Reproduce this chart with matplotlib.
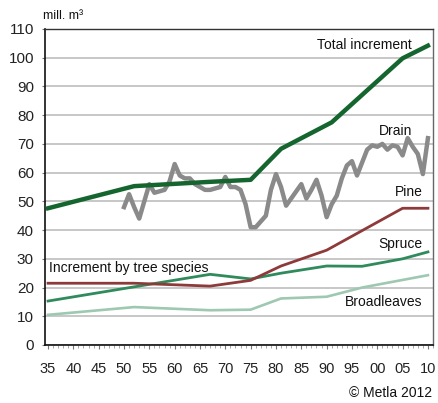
import matplotlib
matplotlib.use("Agg")
import matplotlib.pyplot as plt
from matplotlib.ticker import MultipleLocator, FixedLocator

plt.rcParams['font.family'] = ['Liberation Sans Narrow', 'Liberation Sans', 'DejaVu Sans']

# Data
total_years = [1935, 1952, 1967, 1975, 1981, 1991, 2005, 2010]
total_vals = [47.6, 55.3, 56.8, 57.5, 68.3, 77.5, 99.8, 104.2]

pine_years = [1935, 1952, 1967, 1975, 1981, 1990, 2005, 2010]
pine_vals = [21.5, 21.5, 20.5, 22.5, 27.5, 33.0, 47.6, 47.6]

spruce_years = [1935, 1967, 1975, 1981, 1990, 1997, 2005, 2010]
spruce_vals = [15.3, 24.6, 23.0, 25.0, 27.5, 27.4, 30.0, 32.4]

broad_years = [1935, 1952, 1967, 1975, 1981, 1990, 1997, 2010]
broad_vals = [10.5, 13.2, 12.1, 12.3, 16.2, 16.8, 20.0, 24.3]

drain_years = list(range(1950, 2011))
drain_vals = [48, 52.5, 48, 44, 50, 56, 53, 53.5, 54, 57,
              63, 59, 58, 58, 56, 55, 54, 54, 54.5, 55,
              58.5, 55, 55, 54, 49, 41, 41, 43, 45, 54,
              59.5, 55, 48.5, 51, 53.5, 56, 51, 54, 57.5, 52,
              44.5, 49, 52, 58, 62.5, 64, 59, 63.5, 68, 69.5,
              69, 70, 68, 69.5, 69, 66, 72, 69, 66.5, 59.5, 72]

xtick_years = list(range(1935, 2011, 5))
xtick_labels = ['%02d' % (y % 100) for y in xtick_years]

fig = plt.figure(figsize=(4.38, 4.03), dpi=100)
ax = fig.add_axes([45/438, 1-345/403, 388/438, 316/403])

ax.set_xlim(1934.4, 2011.0)
ax.set_ylim(0, 110)

ax.yaxis.set_major_locator(MultipleLocator(10))
ax.grid(axis='y', color='#b8b8b8', linewidth=1.1, zorder=0)
ax.set_axisbelow(True)

ax.plot(drain_years, drain_vals, color='#8a8a8a', lw=3.2, solid_joinstyle='round', zorder=3)
ax.plot(broad_years, broad_vals, color='#9ec8b2', lw=1.9, zorder=3)
ax.plot(spruce_years, spruce_vals, color='#2f8a5c', lw=2.0, zorder=4)
ax.plot(pine_years, pine_vals, color='#8e3a3a', lw=2.0, zorder=4)
ax.plot(total_years, total_vals, color='#15652f', lw=3.2, zorder=5)

ax.xaxis.set_major_locator(FixedLocator(xtick_years))
ax.set_xticklabels(xtick_labels)
ax.xaxis.set_minor_locator(MultipleLocator(1))
ax.tick_params(axis='x', which='major', length=3, width=0.8, pad=9, labelsize=10.5, color='#777777')
ax.tick_params(axis='x', which='minor', length=2, width=0.6, color='#999999')
ax.tick_params(axis='y', which='major', length=2, width=0.8, pad=6, labelsize=11, color='#777777')
for lab in ax.get_xticklabels() + ax.get_yticklabels():
    lab.set_color('#222222')

ax.spines['left'].set_color('#111111')
ax.spines['left'].set_linewidth(1.2)
ax.spines['bottom'].set_color('#111111')
ax.spines['bottom'].set_linewidth(1.2)
ax.spines['top'].set_color('#333333')
ax.spines['top'].set_linewidth(1.0)
ax.spines['right'].set_color('#666666')
ax.spines['right'].set_linewidth(1.0)

fs = 10
ax.text(2006.8, 104.6, 'Total increment', ha='right', va='center', fontsize=fs, color='#111111')
ax.text(2007.0, 74.5, 'Drain', ha='right', va='center', fontsize=fs, color='#111111')
ax.text(2009.0, 53.3, 'Pine', ha='right', va='center', fontsize=fs, color='#111111')
ax.text(2009.0, 35.3, 'Spruce', ha='right', va='center', fontsize=fs, color='#111111')
ax.text(2009.0, 14.9, 'Broadleaves', ha='right', va='center', fontsize=fs, color='#111111')
ax.text(1935.2, 26.8, 'Increment by tree species', ha='left', va='center', fontsize=fs, color='#111111')

ax.text(-0.005, 1.04, 'mill. m³', transform=ax.transAxes, ha='left', va='center', fontsize=9, color='#111111')
fig.text(432/438, 1-393/403, '© Metla 2012', ha='right', va='center', fontsize=10, color='#111111')

fig.savefig('out.png', dpi=100, facecolor='white')
